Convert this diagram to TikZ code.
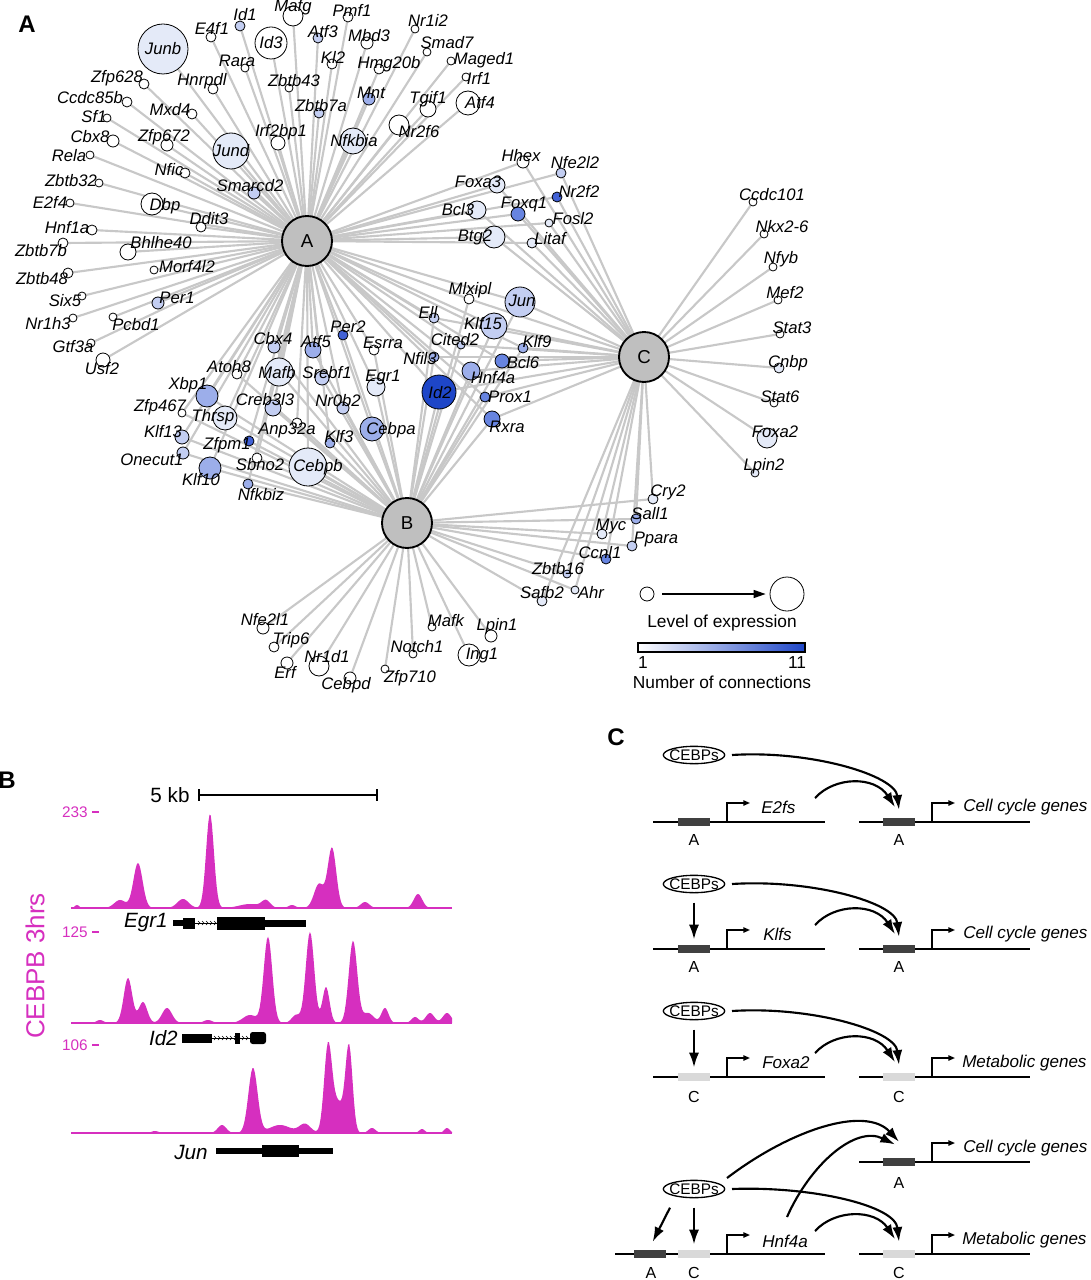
\documentclass[tikz,border=0pt]{standalone}
\usepackage{fontspec}
\setmainfont{Liberation Sans}
\usetikzlibrary{arrows.meta,shapes.geometric}
\pgfdeclarelayer{bg}
\pgfsetlayers{bg,main}
\definecolor{c0}{HTML}{FFFFFF}
\definecolor{c1}{HTML}{E4EAF8}
\definecolor{c2}{HTML}{C3CEF2}
\definecolor{c3}{HTML}{9CAEEA}
\definecolor{c4}{HTML}{6784E0}
\definecolor{c5}{HTML}{4262D6}
\definecolor{c6}{HTML}{1E46C8}
\definecolor{mag}{HTML}{D62FBF}
\definecolor{edgegray}{HTML}{C8C8C8}
\definecolor{hubgray}{HTML}{BFBFBF}
\definecolor{boxdark}{HTML}{404040}
\definecolor{boxlight}{HTML}{D9D9D9}
\tikzset{
  gene/.style={circle, draw=black, line width=0.6pt, inner sep=0pt},
  glab/.style={font=\fontsize{12.5}{14}\selectfont\itshape, inner sep=0pt},
  hub/.style={circle, draw=black, line width=1.4pt, fill=hubgray, minimum size=37.5pt, inner sep=0pt, font=\fontsize{14}{16}\selectfont},
  edge/.style={draw=edgegray, line width=1.6pt},
  plab/.style={font=\fontsize{18}{20}\selectfont\bfseries, inner sep=0pt},
  legtxt/.style={font=\fontsize{13}{15}\selectfont, inner sep=0pt},
  tracknum/.style={font=\fontsize{11.5}{13}\selectfont, text=mag, inner sep=0pt, anchor=east},
  bgene/.style={font=\fontsize{15.5}{17}\selectfont\itshape, inner sep=0pt, anchor=east},
  dna/.style={line width=1.5pt},
  dbox/.style={rectangle, fill=boxdark, minimum width=24pt, minimum height=6pt, inner sep=0pt},
  lbox/.style={rectangle, fill=boxlight, minimum width=24pt, minimum height=6pt, inner sep=0pt},
  prom/.style={line width=1.1pt, -{Triangle[length=5pt,width=4pt]}},
  bigarr/.style={line width=1.6pt, -{Latex[length=11pt,width=7.5pt]}},
  oval/.style={ellipse, draw=black, line width=1pt, minimum width=46pt, minimum height=13pt, inner sep=0pt},
  ctxt/.style={font=\fontsize{12}{13}\selectfont, inner sep=0pt},
  otxt/.style={font=\fontsize{11.5}{13}\selectfont, inner sep=0pt},
  cgene/.style={font=\fontsize{12.8}{14}\selectfont\itshape, inner sep=0pt, anchor=west},
  declare function={g(\t,\c,\w)=exp(-(min(abs((\t-\c)/\w),6))^2);}
}
\newcommand\genelist{Junb/163/49/25/c1/163/49,
E4f1/211/37/5/c0/212/28,
Id1/240/26/5/c2/245/15,
Id3/271/43/16/c0/271/43,
Mafg/293/16/10/c0/293/7,
Rara/245/68/4/c0/237/61,
Zfp628/144/84/5/c0/117/78,
Hnrpdl/213/89/5/c0/202/81,
Zbtb43/289/88/4/c0/294/81,
Kl2/332/64/5/c0/333/57,
Atf3/318/38/5/c2/323/32,
Ccdc85b/127/102/5/c0/90/98,
Mxd4/192/114/5/c0/170/110,
Zbtb7a/319/113/5/c2/321/106,
Sf1/107/118/4/c0/94/117,
Cbx8/113/141/6/c0/90/137,
Zfp672/167/145/6/c0/164/137,
Irf2bp1/278/143/7/c0/281/132,
Jund/231/151/18/c1/231/151,
Nfkbia/353/141/13/c1/354/141,
Rela/90/155/4/c0/69/156,
Nfic/185/173/5/c0/169/170,
Smarcd2/254/193/6/c2/250/186,
Zbtb32/99/183/4/c0/71/181,
E2f4/70/203/4/c0/50/202,
Dbp/152/204/11/c0/165/206,
Ddit3/201/227/5/c0/209/219,
Hnf1a/92/230/5/c0/67/228,
Zbtb7b/63/243/5/c0/41/251,
Bhlhe40/128/252/8/c0/161/243,
Zbtb48/68/273/5/c0/42/279,
Morf4l2/154/270/4/c0/187/267,
Six5/82/296/4/c0/65/301,
Per1/158/303/6/c2/177/298,
Nr1h3/73/318/4/c0/48/324,
Pcbd1/113/317/4/c0/136/325,
Gtf3a/91/343/4/c0/73/347,
Usf2/103/360/7/c0/102/369,
Pmf1/348/17/5/c0/352/10,
Nr1i2/415/29/4/c0/428/20,
Mbd3/367/43/6/c0/369/36,
Smad7/427/52/4/c0/447/43,
Maged1/451/61/4/c0/484/60,
Hmg20b/379/69/5/c0/389/64,
Irf1/466/77/4/c0/479/78,
Mnt/369/99/6/c3/371/93,
Tgif1/428/109/8/c0/428/99,
Atf4/468/103/12/c0/480/103,
Nr2f6/399/125/10/c0/419/132,
Hhex/523/162/6/c0/521/156,
Nfe2l2/561/173/5/c2/575/163,
Foxa3/497/185/8/c1/478/182,
Nr2f2/557/197/5/c5/579/191,
Bcl3/477/210/9/c1/458/210,
Foxq1/518/214/7/c4/524/204,
Fosl2/549/223/4/c1/573/219,
Btg2/494/237/11/c1/475/237,
Litaf/532/243/5/c1/550/239,
Cbx4/274/347/6/c2/273/339,
Atf5/313/350/8/c3/316/342,
Per2/343/335/5/c5/348/327,
Atoh8/237/374/5/c0/229/367,
Mafb/279/372/14/c1/277/373,
Srebf1/322/378/7/c2/327/373,
Xbp1/207/396/11/c3/188/385,
Creb3l3/273/408/8/c2/265/400,
Nr0b2/343/408/6/c2/338/401,
Zfp467/182/413/4/c0/160/407,
Thrsp/225/418/12/c1/213/417,
Anp32a/297/423/5/c0/287/430,
Klf3/330/443/5/c3/339/437,
Klf13/182/437/7/c2/163/432,
Zfpm1/249/441/5/c5/227/445,
Onecut1/183/453/6/c2/152/460,
Sbno2/257/458/5/c0/260/465,
Cebpb/308/467/19/c1/318/467,
Klf10/210/468/11/c3/201/480,
Nfkbiz/248/484/5/c3/261/495,
Mlxipl/469/299/5/c0/470/290,
Jun/520/302/15/c2/522/301,
Ell/434/318/5/c2/428/312,
Klf15/494/326/13/c2/483/324,
Cited2/461/345/4/c2/455/340,
Klf9/523/348/5/c3/537/342,
Esrra/374/350/5/c0/383/343,
Nfil3/434/357/5/c3/420/359,
Bcl6/502/361/7/c4/523/363,
Hnf4a/471/371/9/c3/493/378,
Egr1/376/387/9/c1/383/377,
Id2/439/392/17/c6/440/393,
Prox1/485/397/5/c4/510/397,
Rxra/492/419/8/c4/507/427,
Cebpa/372/429/12/c3/391/430,
Ccdc101/753/202/4/c0/772/195,
Nkx2-6/764/234/4/c0/782/227,
Nfyb/773/267/4/c0/781/259,
Mef2/778/300/4/c0/785/293,
Stat3/780/334/4/c0/792/328,
Cnbp/779/368/5/c1/788/363,
Stat6/774/403/4/c0/780/397,
Foxa2/767/438/10/c1/775/432,
Lpin2/755/473/4/c1/764/466,
Cry2/653/499/5/c1/668/492,
Sall1/636/519/5/c3/650/514,
Myc/602/534/5/c1/611/526,
Ppara/632/546/5/c2/656/539,
Ccnl1/606/559/5/c4/600/553,
Zbtb16/567/574/4/c2/558/569,
Safb2/542/601/5/c1/542/593,
Ahr/575/590/4/c1/591/592,
Nfe2l1/263/628/6/c0/265/620,
Trip6/274/647/5/c0/291/640,
Nr1d1/319/666/10/c0/327/657,
Erf/287/663/6/c0/285/672,
Cebpd/350/678/6/c0/346/685,
Notch1/413/654/4/c0/417/647,
Zfp710/385/669/4/c0/410/678,
Mafk/432/627/4/c0/446/621,
Lpin1/491/636/6/c0/497/626,
Ing1/469/655/11/c0/482/655}
\begin{document}
\begin{tikzpicture}[x=0.75pt,y=-0.75pt]
\useasboundingbox (0,0) rectangle (1090,1280);
% ---------------- Panel A ----------------
\node[plab] (pA) at (27,24) {A};
\node[hub] (hA) at (307,241) {A};
\node[hub] (hB) at (407,523) {B};
\node[hub] (hC) at (644,357) {C};
\foreach \n/\x/\y/\r/\c/\lx/\ly in \genelist {
  \node[gene, fill=\c, minimum size=\r*1.5pt] (\n) at (\x,\y) {};
}
\foreach \n/\x/\y/\r/\c/\lx/\ly in \genelist {
  \node[glab] (\n-l) at (\lx,\ly) {\n};
}
\begin{pgfonlayer}{bg}
\foreach \n in {Junb,E4f1,Id1,Id3,Mafg,Rara,Zfp628,Hnrpdl,Zbtb43,Kl2,Atf3,Ccdc85b,Mxd4,Zbtb7a,Sf1,Cbx8,Zfp672,Irf2bp1,Jund,Nfkbia,Rela,Nfic,Smarcd2,Zbtb32,E2f4,Dbp,Ddit3,Hnf1a,Zbtb7b,Bhlhe40,Zbtb48,Morf4l2,Six5,Per1,Nr1h3,Pcbd1,Gtf3a,Usf2,Pmf1,Nr1i2,Mbd3,Smad7,Maged1,Hmg20b,Irf1,Mnt,Tgif1,Atf4,Nr2f6,Hhex,Nfe2l2,Foxa3,Nr2f2,Bcl3,Foxq1,Fosl2,Btg2,Litaf,Cbx4,Atf5,Per2,Atoh8,Mafb,Srebf1,Xbp1,Creb3l3,Nr0b2,Zfp467,Thrsp,Anp32a,Klf3,Klf13,Zfpm1,Onecut1,Sbno2,Cebpb,Klf10,Nfkbiz,Esrra,Egr1,Cebpa,Mlxipl,Jun,Ell,Klf15,Cited2,Klf9,Nfil3,Bcl6,Hnf4a,Id2,Prox1,Rxra}
  \draw[edge] (hA.center) -- (\n.center);
\foreach \n in {Cbx4,Atf5,Per2,Atoh8,Mafb,Srebf1,Xbp1,Creb3l3,Nr0b2,Zfp467,Thrsp,Anp32a,Klf3,Klf13,Zfpm1,Onecut1,Sbno2,Cebpb,Klf10,Nfkbiz,Esrra,Egr1,Cebpa,Mlxipl,Jun,Ell,Klf15,Cited2,Klf9,Nfil3,Bcl6,Hnf4a,Id2,Prox1,Rxra,Cry2,Sall1,Myc,Ppara,Ccnl1,Zbtb16,Safb2,Ahr,Nfe2l1,Trip6,Nr1d1,Erf,Cebpd,Notch1,Zfp710,Mafk,Lpin1,Ing1}
  \draw[edge] (hB.center) -- (\n.center);
\foreach \n in {Hhex,Nfe2l2,Foxa3,Nr2f2,Bcl3,Foxq1,Fosl2,Btg2,Litaf,Mlxipl,Jun,Ell,Klf15,Cited2,Klf9,Nfil3,Bcl6,Hnf4a,Id2,Prox1,Rxra,Ccdc101,Nkx2-6,Nfyb,Mef2,Stat3,Cnbp,Stat6,Foxa2,Lpin2,Cry2,Sall1,Myc,Ppara,Ccnl1,Zbtb16,Safb2,Ahr}
  \draw[edge] (hC.center) -- (\n.center);
\end{pgfonlayer}
% legend
\node[gene, fill=white, minimum size=10.5pt] (lsmall) at (647,594) {};
\node[gene, fill=white, minimum size=25.5pt] (lbig) at (787,594) {};
\draw[line width=1pt, -{Triangle[length=9pt,width=6pt]}] ([xshift=6pt]lsmall.east) -- ([xshift=-3pt]lbig.west);
\node[legtxt] (lvl) at (722,623) {Level of expression};
\node[draw=black, line width=0.8pt, minimum width=125.25pt, minimum height=6.75pt, inner sep=0pt, left color=white, right color=c6] (cbar) at (721.5,647.5) {};
\node[legtxt] (one) at (643,663) {1};
\node[legtxt] (eleven) at (797,663) {11};
\node[legtxt] (ncon) at (722,682) {Number of connections};
% ---------------- Panel B ----------------
\node[plab] (pB) at (7,780) {B};
\node[font=\fontsize{15.5}{17}\selectfont, inner sep=0pt] (kb) at (170,795) {5 kb};
\draw[line width=1.4pt] (199,795) -- (377,795);
\draw[line width=1.2pt] (199,789) -- (199,801) (377,789) -- (377,801);
\node[rotate=90, text=mag, font=\fontsize{19.5}{21}\selectfont, inner sep=0pt] (cebpb) at (35,966) {CEBPB 3hrs};
\node[tracknum] (t1) at (88,812) {233};
\node[tracknum] (t2) at (88,932) {125};
\node[tracknum] (t3) at (88,1045) {106};
\draw[mag, line width=1pt] (92,812) -- (99,812) (92,932) -- (99,932) (92,1045) -- (99,1045);
% track 1
\fill[mag] (71,908) -- plot[domain=71:452, samples=320] (\x,{908-45*g(\x,138,6.5)-94*g(\x,210,5.5)-60*g(\x,332,6)-24*g(\x,319,7)-14*g(\x,418,6)-8*g(\x,120,8)-9*g(\x,183,8)-4*g(\x,250,15)-7*g(\x,266,6)-6*g(\x,365,6)-3*g(\x,77,3)-3*g(\x,292,5)}) -- (452,908) -- cycle;
\draw[mag, line width=0.8pt] (71,908) -- (452,908);
% track 2
\fill[mag] (71,1023) -- plot[domain=71:452, samples=320] (\x,{1023-45*g(\x,128,6)-21*g(\x,143,6)-15*g(\x,167,7)-3*g(\x,100,5)-3*g(\x,208,6)-8*g(\x,250,10)-86*g(\x,268,6)-91*g(\x,310,6)-36*g(\x,326,5)-82*g(\x,353,6)-10*g(\x,368,8)-15*g(\x,385,5)-6*g(\x,415,5)-10*g(\x,430,6)-10*g(\x,447,6)-8*g(\x,296,6)}) -- (452,1023) -- cycle;
\draw[mag, line width=0.8pt] (71,1023) -- (452,1023);
% track 3
\fill[mag] (71,1133) -- plot[domain=71:452, samples=320] (\x,{1133-8*g(\x,222,6)-65*g(\x,253,6.5)-8*g(\x,280,15)-9*g(\x,305,8)-85*g(\x,328,5.5)-85*g(\x,349,5)-30*g(\x,338,8)-5*g(\x,372,5)-4*g(\x,422,4)-5*g(\x,447,4)-2*g(\x,155,5)}) -- (452,1133) -- cycle;
\draw[mag, line width=0.8pt] (71,1133) -- (452,1133);
% gene models
\node[bgene] (egr1) at (168,923) {Egr1};
\draw[line width=0.6pt] (195,923) -- (217,923);
\foreach \t in {198,202,...,214} \draw[line width=0.5pt] (\t,921) -- (\t+2,923) -- (\t,925);
\fill (173,920) rectangle (183,926);
\fill (183,917.5) rectangle (195,928.5);
\fill (217,916.5) rectangle (265,929.5);
\fill (265,919.5) rectangle (306,926.5);
\node[bgene] (id2) at (178,1038) {Id2};
\draw[line width=0.6pt] (212,1038) -- (250,1038);
\foreach \t in {214,218,...,246} \draw[line width=0.5pt] (\t,1036) -- (\t+2,1038) -- (\t,1040);
\fill (182,1033.5) rectangle (212,1042.5);
\fill (235,1032.5) rectangle (240,1043.5);
\fill[rounded corners=2pt] (250,1032) rectangle (266,1044);
\node[bgene] (jun) at (208,1152) {Jun};
\fill (216,1148) rectangle (333,1154);
\fill (262,1145) rectangle (299,1157);
% ---------------- Panel C ----------------
\node[plab] (pC) at (616,737) {C};
% row 1
\draw[dna] (653,822) -- (825,822);
\draw[dna] (859,822) -- (1030,822);
\node[dbox] (b1l) at (694,822) {};
\node[dbox] (b1r) at (899,822) {};
\draw[prom] (727,822) -- (727,803) -- (750,803);
\draw[prom] (932,822) -- (932,803) -- (955,803);
\node[cgene] at (761,807) {E2fs};
\node[cgene] at (963,807) {Cell cycle genes};
\node[ctxt] at (694,840) {A};
\node[ctxt] at (899,840) {A};
\node[oval] (e1) at (694,755) {};
\node[otxt] at (e1) {CEBPs};
\draw[bigarr] ([xshift=5pt]e1.east) .. controls (810,750) and (895,775) .. ([yshift=6pt]b1r.north);
\draw[bigarr] (815,798) .. controls (835,776) and (875,776) .. ([xshift=-3pt,yshift=8pt]b1r.north);
% row 2
\draw[dna] (653,949) -- (825,949);
\draw[dna] (859,949) -- (1030,949);
\node[dbox] (b2l) at (694,949) {};
\node[dbox] (b2r) at (899,949) {};
\draw[prom] (727,949) -- (727,930) -- (750,930);
\draw[prom] (932,949) -- (932,930) -- (955,930);
\node[cgene] at (763,934) {Klfs};
\node[cgene] at (963,934) {Cell cycle genes};
\node[ctxt] at (694,967) {A};
\node[ctxt] at (899,967) {A};
\node[oval] (e2) at (694,884) {};
\node[otxt] at (e2) {CEBPs};
\draw[bigarr] ([xshift=5pt]e2.east) .. controls (810,879) and (895,902) .. ([yshift=6pt]b2r.north);
\draw[bigarr] (815,925) .. controls (835,903) and (875,903) .. ([xshift=-3pt,yshift=8pt]b2r.north);
\draw[bigarr] ([yshift=-7pt]e2.south) -- ([yshift=4pt]b2l.north);
% row 3
\draw[dna] (653,1077) -- (825,1077);
\draw[dna] (859,1077) -- (1030,1077);
\node[lbox] (b3l) at (694,1077) {};
\node[lbox] (b3r) at (899,1077) {};
\draw[prom] (727,1077) -- (727,1058) -- (750,1058);
\draw[prom] (932,1077) -- (932,1058) -- (955,1058);
\node[cgene] at (762,1063) {Foxa2};
\node[cgene] at (962,1063) {Metabolic genes};
\node[ctxt] at (694,1097) {C};
\node[ctxt] at (899,1097) {C};
\node[oval] (e3) at (694,1011) {};
\node[otxt] at (e3) {CEBPs};
\draw[bigarr] ([xshift=5pt]e3.east) .. controls (810,1006) and (895,1030) .. ([yshift=6pt]b3r.north);
\draw[bigarr] (815,1053) .. controls (835,1031) and (875,1031) .. ([xshift=-3pt,yshift=8pt]b3r.north);
\draw[bigarr] ([yshift=-7pt]e3.south) -- ([yshift=4pt]b3l.north);
% row 4
\draw[dna] (859,1162) -- (1030,1162);
\node[dbox] (b4t) at (899,1162) {};
\draw[prom] (932,1162) -- (932,1143) -- (955,1143);
\node[cgene] at (963,1148) {Cell cycle genes};
\node[ctxt] at (899,1183) {A};
\draw[dna] (615,1254) -- (825,1254);
\draw[dna] (859,1254) -- (1030,1254);
\node[dbox] (b4a) at (650,1254) {};
\node[lbox] (b4c) at (694,1254) {};
\node[lbox] (b4r) at (899,1254) {};
\draw[prom] (727,1254) -- (727,1235) -- (750,1235);
\draw[prom] (932,1254) -- (932,1235) -- (955,1235);
\node[cgene] (hnf) at (762,1241) {Hnf4a};
\node[cgene] at (962,1240) {Metabolic genes};
\node[ctxt] at (651,1273) {A};
\node[ctxt] at (694,1273) {C};
\node[ctxt] at (899,1273) {C};
\node[oval] (e4) at (694,1189) {};
\node[otxt] at (e4) {CEBPs};
\draw[bigarr] ([xshift=-18pt,yshift=-7pt]e4.south) -- ([xshift=2pt,yshift=6pt]b4a.north);
\draw[bigarr] ([yshift=-7pt]e4.south) -- ([yshift=4pt]b4c.north);
\draw[bigarr] (727,1178) .. controls (790,1130) and (865,1105) .. ([yshift=12pt]b4t.north);
\draw[bigarr] (787,1217) .. controls (810,1165) and (855,1125) .. ([xshift=-3pt,yshift=10pt]b4t.north);
\draw[bigarr] ([xshift=5pt]e4.east) .. controls (810,1186) and (895,1205) .. ([yshift=6pt]b4r.north);
\draw[bigarr] (815,1231) .. controls (835,1209) and (875,1209) .. ([xshift=-3pt,yshift=8pt]b4r.north);
\end{tikzpicture}
\end{document}
